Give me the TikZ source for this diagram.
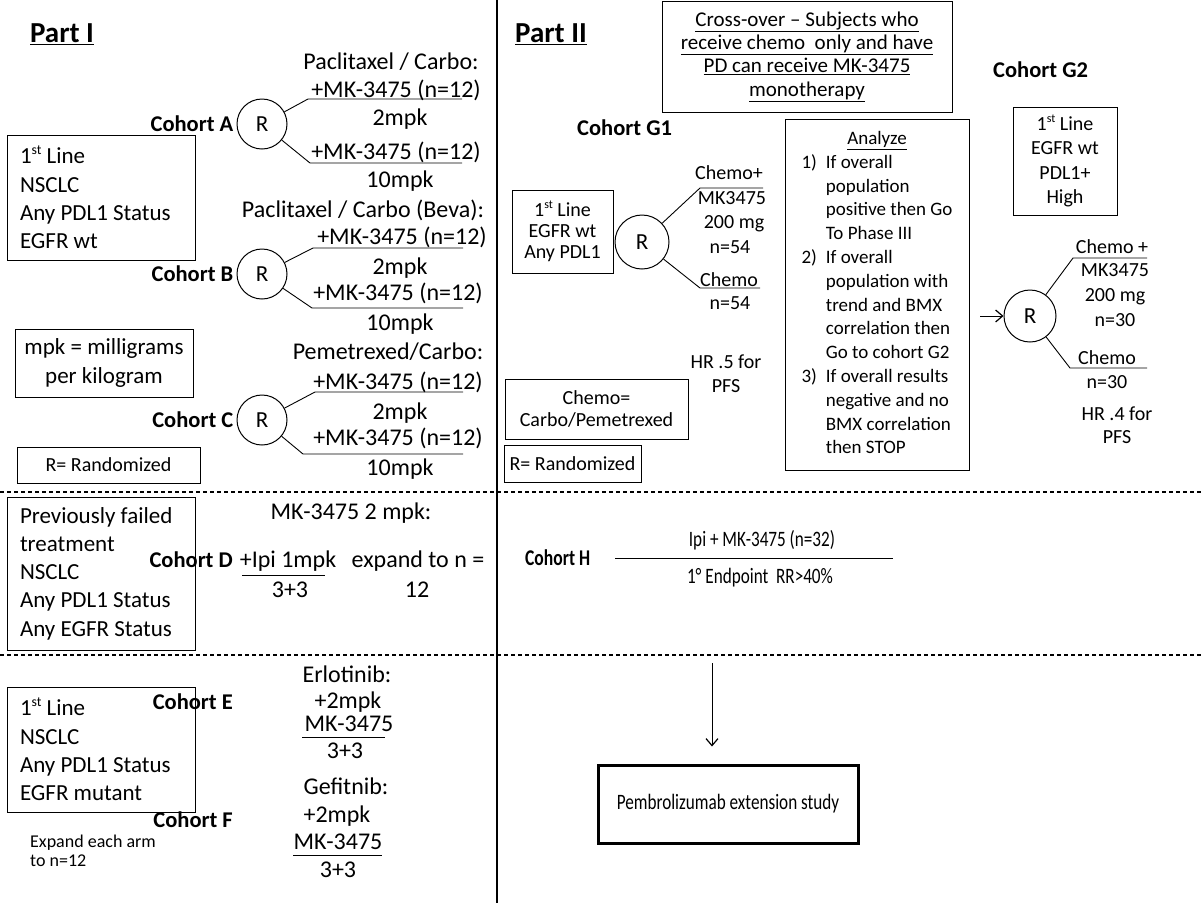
\documentclass[tikz,border=0pt]{standalone}
\usepackage{fontspec}
\setmainfont{Carlito}
\newfontfamily\narrowfont[FakeStretch=0.78]{Carlito}
\usetikzlibrary{positioning, arrows.meta}
\newcommand{\ordst}{\raisebox{0.38em}{\scalebox{0.6}{st}}}

\begin{document}
\begin{tikzpicture}[
        x=1pt, y=-1pt,
        % Styles
        txt/.style={inner sep=0pt, font=\fontsize{24}{29}\selectfont, text height=15.5pt, text depth=0pt},
        txtii/.style={inner sep=0pt, font=\fontsize{20}{23.8}\selectfont, text height=13pt, text depth=0pt},
        multi/.style={inner sep=0pt, align=center, font=\fontsize{20}{23.5}\selectfont},
        narrow/.style={inner sep=0pt, font=\narrowfont\fontsize{22}{26}\selectfont, text height=14pt, text depth=0pt},
        cohort/.style={inner sep=0pt, font=\fontsize{22.5}{27}\selectfont\bfseries, text height=14.6pt, text depth=0pt},
        parttitle/.style={inner sep=0pt, font=\fontsize{29}{34}\selectfont\bfseries, text height=19pt, text depth=0pt},
        infobox/.style={draw, line width=1pt, inner sep=0pt, align=center},
        boxi/.style={infobox, font=\fontsize{23}{28.3}\selectfont},
        leftbox/.style={boxi, minimum width=188pt, text width=162pt, align=flush left},
        boxii/.style={infobox, font=\fontsize{20}{23.3}\selectfont},
        rand/.style={circle, draw, line width=1pt, inner sep=0pt, minimum size=#1, font=\fontsize{23}{28}\selectfont},
        rand/.default=50pt,
        branch/.style={line width=0.9pt},
        divider/.style={line width=1.1pt, dash pattern=on 4pt off 3pt},
        arrow/.style={-{Straight Barb[length=7pt, width=12pt, line width=1.2pt]}, line width=1pt}
    ]
    \useasboundingbox (0,0) rectangle (1202,903);

    % Frame lines
    \draw[line width=1.3pt] (497,0) -- (497,903);
    \draw[divider] (0,492) -- (1202,492);
    \draw[divider] (0,655) -- (1202,655);

    % ---------------- Part I ----------------
    \node[parttitle] (part1) at (62,33) {\underline{Part I}};

    % Populations
    \node[leftbox, minimum height=125pt] (popABC) at (101,197.5) {1\ordst{} Line\\NSCLC\\Any PDL1 Status\\EGFR wt};
    \node[boxi, minimum width=178pt, minimum height=68pt] (mpk) at (104,363) {mpk = milligrams\\per kilogram};
    \node[infobox, font=\fontsize{20}{24}\selectfont, minimum width=183pt, minimum height=36pt] (randI) at (108.5,465) {R= Randomized};

    % Cohort A
    \node[rand] (rA) at (262,124) {R};
    \node[cohort, left=3pt of rA] (cA) {Cohort A};
    \node[txt] (hA) at (391,62) {Paclitaxel / Carbo:};
    \node[txt] (armA1) at (396,90) {+MK-3475 (n=12)};
    \node[txt] (doseA1) at (400,118) {2mpk};
    \node[txt] (armA2) at (396,152) {+MK-3475 (n=12)};
    \node[txt] (doseA2) at (400,180) {10mpk};
    \coordinate (a1s) at (308,99);  \coordinate (a1e) at (462,99);
    \coordinate (a2s) at (310,163); \coordinate (a2e) at (462,163);
    \draw[branch] (rA) -- (a1s) -- (a1e);
    \draw[branch] (rA) -- (a2s) -- (a2e);

    % Cohort B
    \node[rand] (rB) at (262,274) {R};
    \node[cohort, left=3pt of rB] (cB) {Cohort B};
    \node[txt] (hB) at (363,210) {Paclitaxel / Carbo (Beva):};
    \node[txt] (armB1) at (402,237) {+MK-3475 (n=12)};
    \node[txt] (doseB1) at (400,267) {2mpk};
    \node[txt] (armB2) at (398,293) {+MK-3475 (n=12)};
    \node[txt] (doseB2) at (400,323) {10mpk};
    \coordinate (b1s) at (313,248); \coordinate (b1e) at (463,248);
    \coordinate (b2s) at (312,308); \coordinate (b2e) at (463,308);
    \draw[branch] (rB) -- (b1s) -- (b1e);
    \draw[branch] (rB) -- (b2s) -- (b2e);

    % Cohort C
    \node[rand] (rC) at (262,420) {R};
    \node[cohort, left=3pt of rC] (cC) {Cohort C};
    \node[txt] (hC) at (388,352) {Pemetrexed/Carbo:};
    \node[txt] (armC1) at (398,382) {+MK-3475 (n=12)};
    \node[txt] (doseC1) at (400,412) {2mpk};
    \node[txt] (armC2) at (398,438) {+MK-3475 (n=12)};
    \node[txt] (doseC2) at (400,468) {10mpk};
    \coordinate (c1s) at (315,392); \coordinate (c1e) at (463,392);
    \coordinate (c2s) at (303,454); \coordinate (c2e) at (463,454);
    \draw[branch] (rC) -- (c1s) -- (c1e);
    \draw[branch] (rC) -- (c2s) -- (c2e);

    % Cohort D
    \node[leftbox, minimum height=153pt] (popD) at (101,573.5) {Previously failed\\treatment\\NSCLC\\Any PDL1 Status\\Any EGFR Status};
    \node[txt] (hD) at (351,512) {MK-3475 2 mpk:};
    \node[cohort, anchor=east] (cD) at (233,560) {Cohort D};
    \node[txt] (ipiD) at (288,560) {+Ipi 1mpk};
    \node[txt] (d33) at (290,590) {3+3};
    \node[txt] (expD) at (418,560) {expand to n =};
    \node[txt] (d12) at (417,590) {12};
    \coordinate (d1s) at (242,575); \coordinate (d1e) at (325,575);
    \draw[branch] (d1s) -- (d1e);

    % Cohorts E and F
    \node[leftbox, minimum height=125pt] (popEF) at (101,749.5) {1\ordst{} Line\\NSCLC\\Any PDL1 Status\\EGFR mutant};
    \node[cohort, anchor=east] (cE) at (233,702) {Cohort E};
    \node[cohort, anchor=east] (cF) at (233,820) {Cohort F};
    \node[inner sep=0pt, align=left, anchor=west, font=\fontsize{18}{18.5}\selectfont] (expEF) at (30,851) {Expand each arm\\to n=12};
    \node[txt] (hE) at (347,675) {Erlotinib:};
    \node[txt] (doseE) at (348,701) {+2mpk};
    \node[txt] (drugE) at (349,724) {MK-3475};
    \node[txt] (e33) at (345,751) {3+3};
    \node[txt] (hF) at (346,787) {Gefitnib:};
    \node[txt] (doseF) at (337,815) {+2mpk};
    \node[txt] (drugF) at (338,842) {MK-3475};
    \node[txt] (f33) at (338,870) {3+3};
    \coordinate (e1s) at (302,737); \coordinate (e1e) at (385,737);
    \coordinate (f1s) at (293,855); \coordinate (f1e) at (382,855);
    \draw[branch] (e1s) -- (e1e);
    \draw[branch] (f1s) -- (f1e);

    % ---------------- Part II ----------------
    \node[parttitle] (part2) at (551,33) {\underline{Part II}};
    \node[boxii, font=\fontsize{21}{23.3}\selectfont, minimum width=290pt, minimum height=111pt] (cross) at (807,56.5) {\underline{Cross-over – Subjects who}\\\underline{receive chemo\ \ only and have}\\\underline{PD can receive MK-3475}\\\underline{monotherapy}};
    \node[cohort, anchor=west] (cG1) at (577,128) {Cohort G1};
    \node[cohort, anchor=west] (cG2) at (993,70) {Cohort G2};

    % Cohort G1
    \node[infobox, font=\fontsize{20}{21}\selectfont, minimum width=101pt, minimum height=83pt] (popG1) at (562.5,231.5) {1\ordst{} Line\\EGFR wt\\Any PDL1};
    \node[rand=54pt] (rG1) at (642,242) {R};
    \node[txtii] (g1a) at (729,173) {Chemo+};
    \node[txtii] (g1b) at (732,198) {MK3475};
    \node[txtii] (g1c) at (734,222) {200 mg};
    \node[txtii] (g1d) at (730,247) {n=54};
    \node[txtii] (g2a) at (729,280) {Chemo};
    \node[txtii] (g2b) at (730,303) {n=54};
    \coordinate (g1s) at (700,188); \coordinate (g1e) at (763,188);
    \coordinate (g2s) at (700,288); \coordinate (g2e) at (760,288);
    \draw[branch] (rG1) -- (g1s) -- (g1e);
    \draw[branch] (rG1) -- (g2s) -- (g2e);
    \node[multi] (hrG1) at (726,373.5) {HR .5 for\\PFS};
    \node[boxii, font=\fontsize{20}{22}\selectfont, minimum width=183pt, minimum height=60pt] (chemo) at (596.5,409) {Chemo=\\Carbo/Pemetrexed};
    \node[infobox, font=\fontsize{20}{24}\selectfont, minimum width=137pt, minimum height=37pt] (randII) at (572.5,463.5) {R= Randomized};

    % Decision rules
    \node[infobox, font=\fontsize{19}{23.8}\selectfont, minimum width=184pt, minimum height=351pt] (analyze) at (877,294.5) {%
        \begin{tabular}{@{}l@{\hspace{9pt}}l@{}}
            \multicolumn{2}{c}{\underline{Analyze}}\\
            1) & If overall\\
               & population\\
               & positive then Go\\
               & To Phase III\\
            2) & If overall\\
               & population with\\
               & trend and BMX\\
               & correlation then\\
               & Go to cohort G2\\
            3) & If overall results\\
               & negative and no\\
               & BMX correlation\\
               & then STOP
        \end{tabular}};

    % Cohort G2
    \node[infobox, font=\fontsize{20}{24.3}\selectfont, minimum width=104pt, minimum height=108pt] (popG2) at (1065,161) {1\ordst{} Line\\EGFR wt\\PDL1+\\High};
    \node[rand=52pt] (rG2) at (1030,316) {R};
    \coordinate (g2in) at (980,316);
    \draw[arrow] (g2in) -- (rG2);
    \node[txtii] (h1a) at (1112,247) {Chemo +};
    \node[txtii] (h1b) at (1115,270) {MK3475};
    \node[txtii] (h1c) at (1115,295) {200 mg};
    \node[txtii] (h1d) at (1115,320) {n=30};
    \node[txtii] (h2a) at (1107,358) {Chemo};
    \node[txtii] (h2b) at (1107,382) {n=30};
    \coordinate (h1s) at (1073,258); \coordinate (h1e) at (1147,258);
    \coordinate (h2s) at (1070,368); \coordinate (h2e) at (1147,368);
    \draw[branch] (rG2) -- (h1s) -- (h1e);
    \draw[branch] (rG2) -- (h2s) -- (h2e);
    \node[multi] (hrG2) at (1117,425) {HR .4 for\\PFS};

    % Cohort H
    \node[cohort, font=\narrowfont\fontsize{22.5}{27}\selectfont\bfseries, anchor=west] (cH) at (525,558) {Cohort H};
    \node[narrow] (ipiH) at (762,539) {Ipi + MK-3475 (n=32)};
    \node[narrow] (endH) at (760,576) {1° Endpoint\ \ RR>40\%};
    \coordinate (hs) at (615,558); \coordinate (he) at (893,558);
    \draw[branch] (hs) -- (he);

    % Extension
    \node[infobox, line width=3pt, minimum width=260pt, minimum height=78pt, font=\narrowfont\fontsize{22}{26}\selectfont] (pembro) at (728,804) {Pembrolizumab extension study};
    \coordinate (hdown) at (712,663);
    \draw[arrow, line width=0.9pt, shorten >=17pt] (hdown) -- (hdown |- pembro.north);

\end{tikzpicture}
\end{document}
